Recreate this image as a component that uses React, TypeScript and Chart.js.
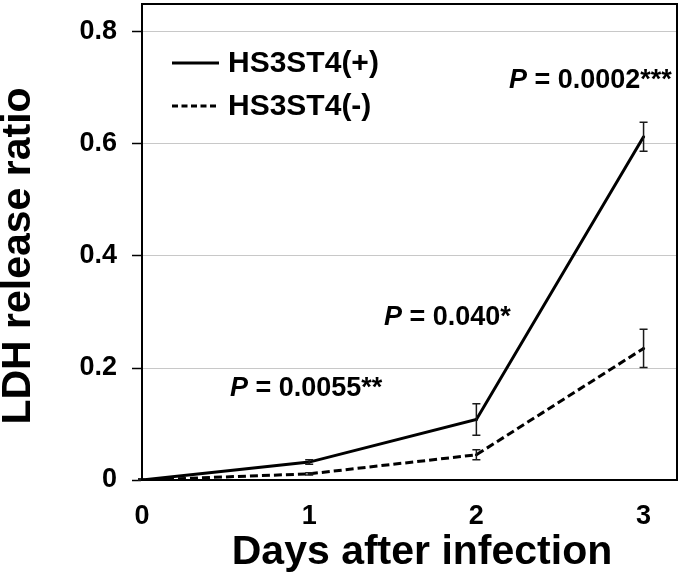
import React, { useEffect, useRef } from 'react';
import { Chart, registerables } from 'chart.js';

Chart.register(...registerables);

// ---- data ----
const days = [0, 1, 2, 3];
const seriesNames = ['HS3ST4(+)', 'HS3ST4(-)'];
const plusMean = [0, 0.032, 0.108, 0.613];
const plusErr = [0.002, 0.004, 0.028, 0.026];
const minusMean = [0, 0.011, 0.045, 0.235];
const minusErr = [0.002, 0.002, 0.009, 0.034];
const xTickValues = [0, 1, 2, 3];
const yTickValues = [0, 0.2, 0.4, 0.6, 0.8];
const xTitle = 'Days after infection';
const yTitle = 'LDH release ratio';
const pTexts = ['0.0055**', '0.040*', '0.0002***'];
// anchor (left x in days, center y in ratio units) of each P label
const pAnchorX = [0.526, 1.447, 2.195];
const pAnchorY = [0.164, 0.29, 0.713];

const FONT = "'Liberation Sans', Arial, Helvetica, sans-serif";

const errors = [plusErr, minusErr];

const errorBarPlugin = {
  id: 'errorBars',
  afterDatasetsDraw(chart: any) {
    const ctx = chart.ctx;
    const xs = chart.scales.x;
    const ys = chart.scales.y;
    const means = [plusMean, minusMean];
    ctx.save();
    ctx.strokeStyle = '#1a1a1a';
    ctx.lineWidth = 1.5;
    for (let d = 0; d < means.length; d++) {
      for (let i = 0; i < days.length; i++) {
        const x = xs.getPixelForValue(days[i]);
        const yt = ys.getPixelForValue(means[d][i] + errors[d][i]);
        const yb = ys.getPixelForValue(Math.max(0, means[d][i] - errors[d][i]));
        ctx.beginPath();
        ctx.moveTo(x, yt);
        ctx.lineTo(x, yb);
        ctx.moveTo(x - 4, yt);
        ctx.lineTo(x + 4, yt);
        ctx.moveTo(x - 4, yb);
        ctx.lineTo(x + 4, yb);
        ctx.stroke();
      }
    }
    ctx.restore();
  },
};

const annotPlugin = {
  id: 'annot',
  afterDraw(chart: any) {
    const ctx = chart.ctx;
    const { left, top, right, bottom } = chart.chartArea;
    const xs = chart.scales.x;
    const ys = chart.scales.y;
    ctx.save();
    // frame
    ctx.strokeStyle = '#000';
    ctx.lineWidth = 2;
    ctx.strokeRect(left, top, right - left, bottom - top);

    // legend
    const lx0 = left + 30;
    const lx1 = left + 77;
    const rows = [63, 106];
    ctx.fillStyle = '#000';
    ctx.textBaseline = 'middle';
    ctx.textAlign = 'left';
    ctx.font = `bold 30px ${FONT}`;
    for (let r = 0; r < 2; r++) {
      ctx.beginPath();
      ctx.lineWidth = 3;
      ctx.setLineDash(r === 0 ? [] : [6, 3.5]);
      ctx.moveTo(lx0, rows[r]);
      ctx.lineTo(lx1, rows[r]);
      ctx.stroke();
      ctx.setLineDash([]);
      ctx.fillText(seriesNames[r], left + 86, rows[r] + 1);
    }

    // P labels
    for (let k = 0; k < pTexts.length; k++) {
      const px = xs.getPixelForValue(pAnchorX[k]);
      const py = ys.getPixelForValue(pAnchorY[k]);
      ctx.font = `italic bold 27px ${FONT}`;
      ctx.fillText('P', px, py);
      const w = ctx.measureText('P').width;
      ctx.font = `bold 27px ${FONT}`;
      ctx.fillText(' = ' + pTexts[k], px + w, py);
    }

    // axis titles
    ctx.font = `bold 41px ${FONT}`;
    ctx.textAlign = 'center';
    ctx.textBaseline = 'middle';
    ctx.fillText(xTitle, 422, 553);
    ctx.save();
    ctx.translate(19, 256);
    ctx.rotate(-Math.PI / 2);
    ctx.fillText(yTitle, 0, 0);
    ctx.restore();

    ctx.restore();
  },
};

export default function App() {
  const ref = useRef<HTMLCanvasElement | null>(null);

  useEffect(() => {
    document.body.style.margin = '0';
    const canvas = ref.current;
    if (!canvas) return;
    const chart = new Chart(canvas, {
      type: 'line',
      data: {
        datasets: [
          {
            label: seriesNames[0],
            data: days.map((d, i) => ({ x: d, y: plusMean[i] })),
            borderColor: '#000',
            backgroundColor: '#000',
            borderWidth: 3,
            pointRadius: 1.5,
            pointBorderWidth: 0,
            tension: 0,
          },
          {
            label: seriesNames[1],
            data: days.map((d, i) => ({ x: d, y: minusMean[i] })),
            borderColor: '#000',
            backgroundColor: '#000',
            borderWidth: 3,
            borderDash: [8, 4],
            pointRadius: 1.5,
            pointBorderWidth: 0,
            tension: 0,
          },
        ],
      },
      options: {
        animation: false,
        responsive: false,
        layout: { padding: { top: 4, right: 4, left: 0, bottom: 0 } },
        plugins: { legend: { display: false }, tooltip: { enabled: false } },
        scales: {
          x: {
            type: 'linear',
            min: 0,
            max: 3.2,
            afterFit: (s: any) => {
              s.height = 106;
              s.paddingLeft = 0;
              s.paddingRight = 0;
            },
            afterBuildTicks: (s: any) => {
              s.ticks = xTickValues.map((v) => ({ value: v }));
            },
            ticks: {
              color: '#000',
              padding: 20,
              font: { family: FONT, size: 27, weight: 'bold' },
              callback: (v: any) => String(v),
              maxRotation: 0,
            },
            grid: { display: false, drawTicks: false },
            border: { display: true, color: '#000', width: 2 },
          },
          y: {
            type: 'linear',
            min: 0,
            max: 0.85,
            afterFit: (s: any) => {
              s.width = 142;
              s.paddingTop = 0;
              s.paddingBottom = 0;
            },
            afterBuildTicks: (s: any) => {
              s.ticks = yTickValues.map((v) => ({ value: v }));
            },
            ticks: {
              color: '#000',
              padding: 15,
              font: { family: FONT, size: 27, weight: 'bold' },
              callback: (v: any) => (Number(v) === 0 ? '0' : Number(v).toFixed(1)),
            },
            grid: {
              color: '#c8c8c8',
              lineWidth: 1,
              drawTicks: true,
              tickLength: 10,
              tickColor: '#000',
              tickWidth: 1.5,
            },
            border: { display: true, color: '#000', width: 2 },
          },
        },
      },
      plugins: [errorBarPlugin, annotPlugin],
    } as any);
    return () => chart.destroy();
  }, []);

  return (
    <div style={{ width: 681, height: 586 }}>
      <canvas ref={ref} width={681} height={586} style={{ display: 'block', width: 681, height: 586 }} />
    </div>
  );
}
